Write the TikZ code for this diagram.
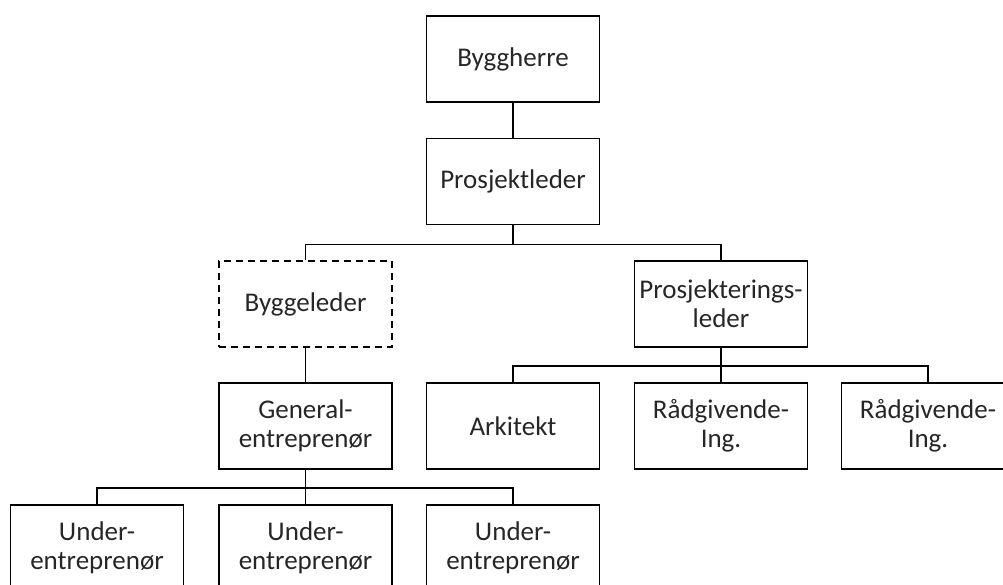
\documentclass[tikz,border=0pt]{standalone}
\usepackage{fontspec}
\setmainfont{Carlito}
\begin{document}
\begin{tikzpicture}[x=1pt,y=-1pt,
  box/.style={draw, line width=1.8pt, minimum width=173pt, minimum height=86pt,
    inner sep=0pt, align=center, font=\fontsize{27}{29}\selectfont, text=black!85},
  dbox/.style={box, dash pattern=on 7pt off 5pt},
  link/.style={line width=1.8pt}]
\useasboundingbox (0,0) rectangle (1003,584);
\clip (0,0) rectangle (1003,584);
\node[box] (bh) at (513,59) {Byggherre};
\node[box] (pl) at (513,181.5) {Prosjektleder};
\node[dbox] (bl) at (305.5,304) {Byggeleder};
\node[box] (psl) at (721,304) {Prosjekterings-\\leder};
\node[box] (ge) at (305.5,426) {General-\\entreprenør};
\node[box] (ar) at (513,426) {Arkitekt};
\node[box] (r1) at (721,426) {Rådgivende-\\Ing.};
\node[box] (r2) at (928,426) {Rådgivende-\\Ing.};
\node[box] (u1) at (97,548) {Under-\\entreprenør};
\node[box] (u2) at (305.5,548) {Under-\\entreprenør};
\node[box] (u3) at (513,548) {Under-\\entreprenør};
\draw[link] (bh.south) -- (pl.north);
\draw[link] (pl.south) -- ++(0,19) -| (bl.north);
\draw[link] (pl.south) -- ++(0,19) -| (psl.north);
\draw[link] (bl.south) -- (ge.north);
\draw[link] (psl.south) -- ++(0,18) -| (ar.north);
\draw[link] (psl.south) -- (r1.north);
\draw[link] (psl.south) -- ++(0,18) -| (r2.north);
\draw[link] (ge.south) -- ++(0,18) -| (u1.north);
\draw[link] (ge.south) -- (u2.north);
\draw[link] (ge.south) -- ++(0,18) -| (u3.north);
\end{tikzpicture}
\end{document}
